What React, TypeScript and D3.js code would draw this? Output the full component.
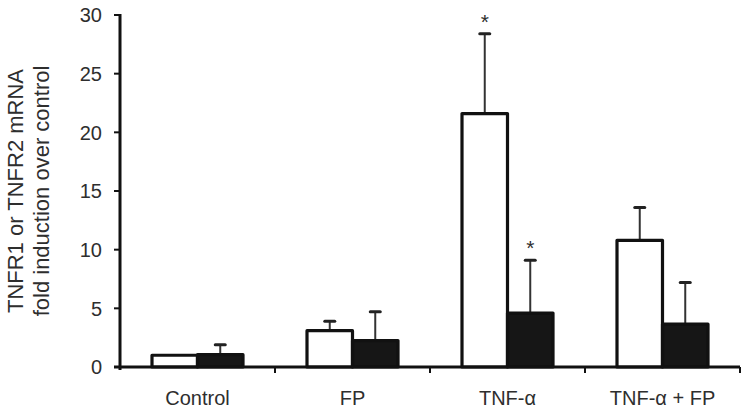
import React, { useEffect, useRef } from 'react';
import * as d3 from 'd3';

const categories = ['Control', 'FP', 'TNF-α', 'TNF-α + FP'];
const tnfr1 = [1.0, 3.1, 21.6, 10.8];
const tnfr1Err = [0, 0.8, 6.8, 2.8];
const tnfr2 = [1.05, 2.25, 4.6, 3.65];
const tnfr2Err = [0.85, 2.45, 4.5, 3.55];
const tnfr1Sig = [false, false, true, false];
const tnfr2Sig = [false, false, true, false];
const yTicks = [0, 5, 10, 15, 20, 25, 30];

const FONT = '"Liberation Sans", Arial, Helvetica, sans-serif';
const TEXT = '#2e2e2e';

const App: React.FC = () => {
  const svgRef = useRef<SVGSVGElement | null>(null);

  useEffect(() => {
    const svg = d3.select(svgRef.current);
    svg.selectAll('*').remove();

    const left = 120;
    const right = 740;
    const top = 15;
    const bottom = 367;
    const barW = 45.5;

    const x = d3.scaleBand<string>().domain(categories).range([left, right]);
    const y = d3.scaleLinear().domain([0, 30]).range([bottom, top]);

    const g = svg.append('g');

    // white = TNFR1, black = TNFR2
    const series = [
      { vals: tnfr1, errs: tnfr1Err, sig: tnfr1Sig, off: -barW, fill: '#fff' },
      { vals: tnfr2, errs: tnfr2Err, sig: tnfr2Sig, off: 0, fill: '#161616' },
    ];

    series.forEach((s) => {
      const cx = (i: number) => (x(categories[i]) as number) + x.bandwidth() / 2 + s.off + barW / 2;

      // error bars, upper half only
      s.vals.forEach((v, i) => {
        if (!s.errs[i]) return;
        const xc = cx(i);
        g.append('line')
          .attr('x1', xc).attr('x2', xc)
          .attr('y1', y(v)).attr('y2', y(v + s.errs[i]))
          .attr('stroke', '#333').attr('stroke-width', 2);
        g.append('line')
          .attr('x1', xc - 5).attr('x2', xc + 5)
          .attr('y1', y(v + s.errs[i])).attr('y2', y(v + s.errs[i]))
          .attr('stroke', '#222').attr('stroke-width', 3).attr('stroke-linecap', 'round');
        if (s.sig[i]) {
          g.append('text')
            .attr('x', xc).attr('y', y(v + s.errs[i]) - 5)
            .attr('text-anchor', 'middle')
            .attr('font-family', FONT).attr('font-size', 21)
            .attr('fill', TEXT)
            .text('*');
        }
      });

      g.selectAll(null)
        .data(s.vals)
        .enter()
        .append('rect')
        .attr('x', (d, i) => (x(categories[i]) as number) + x.bandwidth() / 2 + s.off)
        .attr('y', (d) => y(d))
        .attr('width', barW)
        .attr('height', (d) => y(0) - y(d))
        .attr('fill', s.fill)
        .attr('stroke', '#111')
        .attr('stroke-width', 3.2)
        .attr('stroke-linejoin', 'round');
    });

    // y axis
    g.append('line')
      .attr('x1', left).attr('x2', left)
      .attr('y1', top - 1).attr('y2', bottom + 3)
      .attr('stroke', '#111').attr('stroke-width', 3);
    yTicks.forEach((t) => {
      g.append('line')
        .attr('x1', left - 6).attr('x2', left)
        .attr('y1', y(t)).attr('y2', y(t))
        .attr('stroke', '#111').attr('stroke-width', 2);
      g.append('text')
        .attr('x', 102).attr('y', y(t))
        .attr('dy', '0.36em')
        .attr('text-anchor', 'end')
        .attr('font-family', FONT).attr('font-size', 20)
        .attr('fill', TEXT)
        .text(String(t));
    });

    // x axis
    g.append('line')
      .attr('x1', left - 6).attr('x2', right)
      .attr('y1', bottom).attr('y2', bottom)
      .attr('stroke', '#111').attr('stroke-width', 3);
    categories.forEach((c) => {
      const bx = (x(c) as number) + x.bandwidth();
      g.append('line')
        .attr('x1', bx).attr('x2', bx)
        .attr('y1', bottom).attr('y2', bottom + 6)
        .attr('stroke', '#111').attr('stroke-width', 2);
      g.append('text')
        .attr('x', (x(c) as number) + x.bandwidth() / 2)
        .attr('y', 405)
        .attr('text-anchor', 'middle')
        .attr('font-family', FONT).attr('font-size', 20)
        .attr('fill', TEXT)
        .text(c);
    });

    // y title, two lines
    const title = g.append('text')
      .attr('transform', `translate(0, ${(top + bottom) / 2}) rotate(-90)`)
      .attr('text-anchor', 'middle')
      .attr('font-family', FONT).attr('font-size', 22)
      .attr('fill', TEXT);
    title.append('tspan').attr('x', 0).attr('y', 23).text('TNFR1 or TNFR2 mRNA');
    title.append('tspan').attr('x', 0).attr('y', 49).text('fold induction over control');
  }, []);

  return (
    <svg
      ref={svgRef}
      width={750}
      height={413}
      style={{ position: 'absolute', left: 0, top: 0, background: '#fff' }}
    />
  );
};

export default App;
